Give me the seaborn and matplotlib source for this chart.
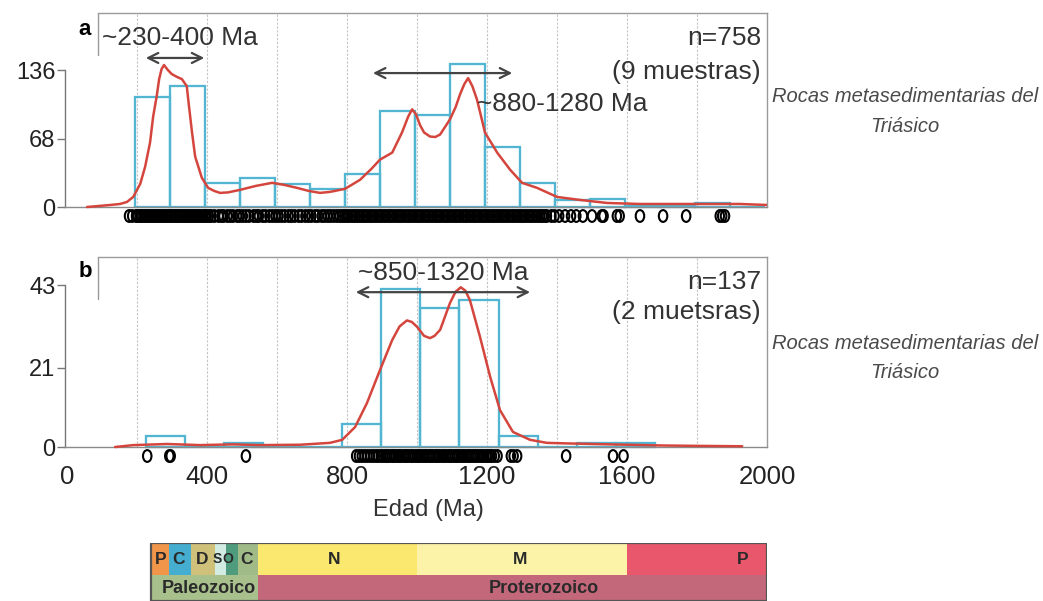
import matplotlib
matplotlib.use("Agg")
import matplotlib.pyplot as plt
import matplotlib.transforms as mtrans
from matplotlib import font_manager
from matplotlib.path import Path
import seaborn as sns

# ---- panel a: histogram (100 Ma bins), density curve, single ages ----
edges_a = [195, 295, 395, 495, 595, 695, 795, 895, 995, 1095, 1195, 1295,
           1395, 1495, 1595, 1695, 1795, 1895, 1995]
counts_a = [109, 120, 24, 29, 23, 18, 33, 95, 91, 142, 60, 24, 7, 8, 1, 1, 4, 0]

kde_x_a = [57, 123, 151, 171, 189, 209, 223, 237, 246, 256, 263, 270, 277, 288,
           299, 315, 328, 342, 347, 357, 366, 385, 403, 420, 437, 460, 494, 540,
           586, 620, 657, 690, 723, 751, 794, 837, 870, 894, 929, 957, 975, 986,
           997, 1009, 1020, 1037, 1052, 1066, 1094, 1110, 1123, 1135, 1146,
           1158, 1171, 1183, 1194, 1229, 1266, 1300, 1343,
           1400, 1466, 1543, 1637, 1794, 1923, 2000]
kde_y_a = [0, 2, 3, 5, 10, 23, 40, 64, 90, 110, 127, 137, 141, 136,
           132, 129, 127, 120, 104, 74, 50, 29, 19, 16, 14, 14.5, 17, 21,
           24, 22, 19, 16, 14, 15, 18, 27, 38, 47, 54, 74, 90, 97,
           92, 81, 74, 70, 69.5, 72, 87, 99, 112, 122, 128,
           120, 107, 90, 74, 54, 37, 24, 19,
           10, 7, 4, 3, 3, 3, 2]

ages_a = [177, 186,
          197, 202, 209, 214, 220, 226, 231, 237, 242, 248, 254, 259, 265, 270,
          276, 282, 287, 293, 298, 304, 310, 315, 321, 326, 332, 338, 343, 349,
          354, 360, 366, 371, 377, 382, 388, 394, 399,
          405, 412, 421, 433, 441, 447, 458, 466, 474, 486, 493, 502, 511, 520,
          533, 541, 548, 559, 567, 578, 587, 596, 604, 613, 622, 633, 641, 650,
          662, 670, 681, 690, 698, 709, 717, 728, 736, 745, 753, 762, 771, 779,
          786, 792, 799, 805, 812, 819, 825, 832, 839, 846, 852, 859, 866, 872,
          879, 886, 893, 899, 906, 913, 920, 926, 933, 940, 947, 953, 960, 967,
          974, 980, 987, 994, 1001, 1007, 1014, 1021, 1028, 1034, 1041, 1048,
          1055, 1061, 1068, 1075, 1082, 1088, 1095, 1102, 1109, 1115, 1122,
          1129, 1136, 1142, 1149, 1156, 1163, 1169, 1176, 1183, 1190, 1196,
          1203, 1210, 1217, 1223, 1230, 1237, 1244, 1250, 1257, 1264, 1271,
          1277, 1284, 1291, 1298, 1304, 1311, 1318, 1325, 1331, 1338, 1345,
          1352, 1358, 1365, 1371,
          1384, 1393, 1406, 1423, 1440, 1455, 1474, 1500, 1528, 1533, 1571,
          1579, 1637, 1703, 1769, 1865, 1872, 1880]

# ---- panel b: histogram (112 Ma bins), density curve, single ages ----
edges_b = [225, 337, 449, 561, 673, 785, 897, 1009, 1121, 1233, 1345, 1457,
           1569, 1681]
counts_b = [3, 0, 1, 0, 0, 6, 42, 37, 39, 3, 0, 1, 1]

kde_x_b = [137, 189, 286, 380, 474, 551, 666, 751, 786, 823, 857, 894, 929,
           950, 971, 985, 1000, 1020, 1037, 1050, 1066, 1094, 1110, 1125, 1138,
           1151, 1180, 1209, 1237, 1274,
           1323, 1371, 1409, 1500, 1600, 1700, 1800, 1929]
kde_y_b = [0, 0.5, 0.8, 0.5, 0.7, 0.5, 0.6, 1.1, 1.9, 5.3, 11.7, 20.4, 28.4,
           32, 33.6, 33.2, 31.9, 29.5, 28.9, 29.5, 31.1, 38.2, 41.2, 42.4, 41.5,
           39, 29.2, 18.6, 9.8, 4,
           1.9, 1.1, 1.0, 0.8, 0.6, 0.4, 0.3, 0.2]

ages_b = [229, 292, 296, 511,
          826, 834, 842, 850, 858, 866, 874, 882, 889,
          897, 903, 910, 915, 921, 928, 933, 939, 946, 951, 957, 964, 969, 975,
          982, 987, 993, 1000, 1005, 1011, 1018, 1023, 1029, 1036, 1041, 1047,
          1054, 1059, 1065, 1072, 1077, 1083, 1090, 1095, 1101, 1108, 1113,
          1119, 1126, 1131, 1137, 1144, 1149, 1155, 1162, 1167, 1173, 1180,
          1185, 1191, 1198, 1203, 1209, 1214,
          1222, 1230, 1268, 1276, 1286, 1426, 1560, 1590]

# ---- geological time scale ----
per_edges = [240, 291, 354, 424, 454, 488, 545, 1000, 1600, 2000]
per_labels = ["P", "C", "D", "S", "O", "C", "N", "M", "P"]
per_colors = ["#f0954a", "#45aed0", "#cfc17a", "#d2ebe3", "#4e9b7d", "#a0bb88",
              "#fbe86e", "#fcf3a8", "#e8576b"]
era_edges = [240, 545, 2000]
era_labels = ["Paleozoico", "Proterozoico"]
era_colors = ["#a8c08c", "#c3677a"]

sns.set_style("white")
names = {f.name for f in font_manager.fontManager.ttflist}
has_narrow = "Liberation Sans Narrow" in names
narrow = "Liberation Sans Narrow" if has_narrow else "Liberation Sans"
plt.rcParams["font.family"] = ["Liberation Sans", "DejaVu Sans"]

W, H = 1043, 601
PXMA = 0.35  # pixels per Ma


def box(x0, y0, x1, y1):
    return [x0 / W, 1 - y1 / H, (x1 - x0) / W, (y1 - y0) / H]


def ma(px):
    return (px - 65) / PXMA - 6


fig = plt.figure(figsize=(W / 100, H / 100), dpi=100)
ax_a = fig.add_axes(box(65, 13, 767, 227))
ax_b = fig.add_axes(box(65, 257, 767, 463))
ax_t = fig.add_axes(box(65, 543, 767, 601))

HIST = "#52b6d3"
RED = "#d4463d"
GRID = "#c4c4c4"
FRAME = "#9a9a9a"

ell = Path.unit_circle().transformed(mtrans.Affine2D().scale(0.72, 1.0))


def panel(ax, edges, counts, kx, ky, ages, zero_px, top_px, px_per, ticks):
    top = (zero_px - top_px) / px_per
    bot_px = H * (1 - ax.get_position().y0)
    ax.set_xlim(-6, 2000)
    ax.set_ylim(-(bot_px - zero_px) / px_per, top)

    ax.vlines([200, 400, 600, 800, 1000, 1200, 1400, 1600, 1800], 0, top,
              color=GRID, lw=0.8, ls=(0, (2, 1.5)), zorder=0)

    centers = [(edges[i] + edges[i + 1]) / 2 for i in range(len(counts))]
    sns.histplot(x=centers, weights=counts, bins=edges, fill=False,
                 element="bars", color=HIST, lw=1.1, ax=ax, zorder=2)
    sns.lineplot(x=kx, y=ky, color=RED, lw=1.8, ax=ax, zorder=3)
    sns.scatterplot(x=ages, y=[-9 / px_per] * len(ages), marker=ell, s=72,
                    facecolor="none", edgecolor="black", linewidth=1.5,
                    ax=ax, zorder=4, clip_on=False)

    for s in ax.spines.values():
        s.set_color(FRAME)
        s.set_linewidth(1.0)
    ax.spines["left"].set_bounds(0, ticks[-1])
    ax.spines["left"].set_color("#777777")
    ax.spines["bottom"].set_position(("data", 0))
    ax.spines["bottom"].set_bounds(-6, 2000)
    ax.spines["bottom"].set_color("#8a8a8a")
    ax.spines["top"].set_bounds(ma(98), 2000)
    ax.spines["right"].set_bounds(0, top)
    ax.plot([ma(98), ma(98)], [top, top - 42 / px_per], color=FRAME, lw=1.0)

    ax.set_yticks(ticks)
    ax.set_yticklabels([str(t) for t in ticks])
    ax.tick_params(axis="y", direction="out", length=6, width=1,
                   color="#777777", labelsize=17, labelcolor="#222222", pad=1,
                   left=True)
    ax.set_xlabel("")
    ax.set_ylabel("")


panel(ax_a, edges_a, counts_a, kde_x_a, kde_y_a, ages_a, 207, 13, 1.007,
      [0, 68, 136])
panel(ax_b, edges_b, counts_b, kde_x_b, kde_y_b, ages_b, 447, 257, 3.767,
      [0, 21, 43])

ax_a.set_xticks([])
ax_b.set_xticks([0, 400, 800, 1200, 1600, 2000])
ax_b.set_xticklabels(["0", "400", "800", "1200", "1600", "2000"])
ax_b.tick_params(axis="x", length=0, pad=13, labelsize=21 if has_narrow else 18.5,
                 labelcolor="#222222")
for lab in ax_b.get_xticklabels():
    lab.set_family(narrow)

# annotations, panel a
txt = dict(color="#333333", fontsize=19)
arrow = dict(arrowstyle="<->", color="#444444", lw=1.6, mutation_scale=18)
ax_a.text(51, 176, "a", fontsize=16, fontweight="bold", ha="center",
          va="center", color="black")
ax_a.text(101, 168, "~230-400 Ma", ha="left", va="center", **txt)
ax_a.annotate("", xy=(400, 148), xytext=(217, 148), arrowprops=arrow)
ax_a.text(1170, 102, "~880-1280 Ma", ha="left", va="center", **txt)
ax_a.annotate("", xy=(1280, 133), xytext=(866, 133), arrowprops=arrow)
ax_a.text(1983, 168, "n=758", ha="right", va="center", **txt)
ax_a.text(1983, 134, "(9 muestras)", ha="right", va="center", **txt)

# annotations, panel b
ax_b.text(51, 46.5, "b", fontsize=16, fontweight="bold", ha="center",
          va="center", color="black")
ax_b.text(1074, 46.2, "~850-1320 Ma", ha="center", va="center", **txt)
ax_b.annotate("", xy=(1331, 41.1), xytext=(817, 41.1), arrowprops=arrow)
ax_b.text(1983, 43.8, "n=137", ha="right", va="center", **txt)
ax_b.text(1983, 35.8, "(2 muetsras)", ha="right", va="center", **txt)

fig.text(428 / W, 1 - 510 / H, "Edad (Ma)", ha="center", va="center",
         fontsize=20 if has_narrow else 17, color="#333333", family=narrow)

side = dict(ha="center", va="center", fontsize=14.5, style="italic",
            color="#4a4a4a")
for y0 in (97, 343):
    fig.text(905 / W, 1 - y0 / H, "Rocas metasedimentarias del", **side)
    fig.text(905 / W, 1 - (y0 + 30) / H, "Triásico", **side)

# time scale bar
ax_t.set_xlim(-6, 2000)
ax_t.set_ylim(0, 58)
ax_t.axis("off")
for i, lab in enumerate(per_labels):
    ax_t.barh(26, per_edges[i + 1] - per_edges[i], left=per_edges[i],
              height=32, align="edge", color=per_colors[i], lw=0)
for i, lab in enumerate(era_labels):
    ax_t.barh(0, era_edges[i + 1] - era_edges[i], left=era_edges[i],
              height=26, align="edge", color=era_colors[i], lw=0)
ax_t.barh(0, era_edges[-1] - era_edges[0], left=era_edges[0], height=58,
          align="edge", fill=False, edgecolor="#555555", lw=1.6)

per_pos = [161, 179, 202, 217, 228, 247, 334, 520, 743]
per_size = [12.5, 12.5, 12.5, 10, 10, 12.5, 12.5, 12.5, 12.5]
for px, lab, fs in zip(per_pos, per_labels, per_size):
    ax_t.text(ma(px), 42, lab, ha="center", va="center", fontsize=fs,
              fontweight="bold", color="#2a2a2a", family=narrow)
for px, lab in zip([209, 544], era_labels):
    ax_t.text(ma(px), 12.5, lab, ha="center", va="center", fontsize=13,
              fontweight="bold", color="#2a2a2a", family=narrow)

fig.savefig("out.png", dpi=100)
